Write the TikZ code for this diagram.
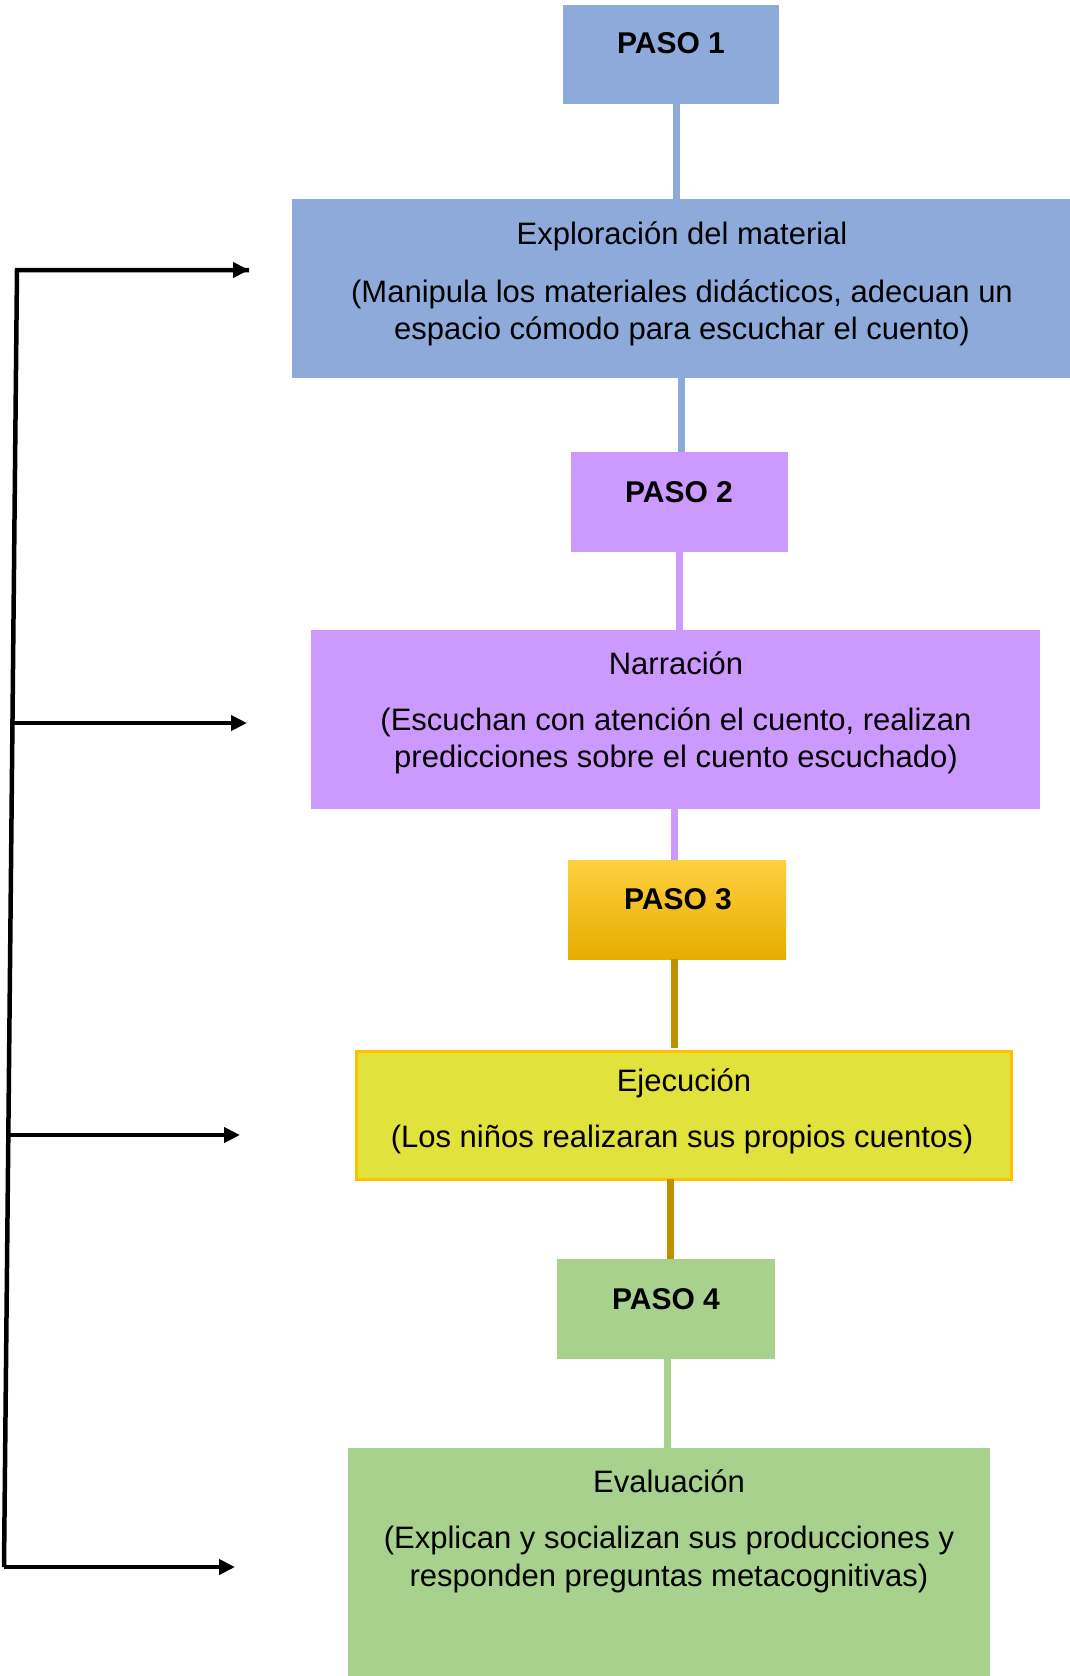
\documentclass[tikz,border=0pt]{standalone}
\usepackage{fontspec}
\setmainfont{Liberation Sans}
\usetikzlibrary{arrows.meta}
\definecolor{cblue}{HTML}{8EAADB}
\definecolor{cpurple}{HTML}{CC99FF}
\definecolor{cgold}{HTML}{BF9000}
\definecolor{cgreen}{HTML}{A9D18E}
\definecolor{cyel}{HTML}{E2E23C}
\definecolor{corange}{HTML}{FFC000}
\tikzset{
  box/.style={draw=none, inner sep=0pt, anchor=north west},
  stxt/.style={font=\fontsize{31}{37.5}\selectfont, align=center, inner sep=0pt, text=black},
  ptxt/.style={font=\fontsize{30}{37}\selectfont\bfseries, inner sep=0pt, text=black},
  conn/.style={line width=7pt},
  fb/.style={line width=4.5pt, -{Triangle[length=16pt,width=15pt]}},
}
\begin{document}
\begin{tikzpicture}[x=1pt,y=-1pt]
\useasboundingbox (0,0) rectangle (1070,1676);
% boxes
\node[box, fill=cblue, minimum width=216pt, minimum height=99pt] (p1) at (563,5) {};
\node[box, fill=cblue, minimum width=778pt, minimum height=179pt] (b1) at (292,199) {};
\node[box, fill=cpurple, minimum width=217pt, minimum height=100pt] (p2) at (571,452) {};
\node[box, fill=cpurple, minimum width=729pt, minimum height=179pt] (b2) at (311,630) {};
\node[box, top color=corange!75!white, middle color=corange, bottom color=corange!90!black, minimum width=218pt, minimum height=99pt] (p3) at (568,860) {};
\node[box, fill=cyel, draw=corange, line width=3pt, minimum width=655pt, minimum height=128pt] (b3) at (355,1049.5) {};
\node[box, fill=cgreen, minimum width=218pt, minimum height=100pt] (p4) at (557,1259) {};
\node[box, fill=cgreen, minimum width=642pt, minimum height=240pt] (b4) at (348,1448) {};
% connectors
\draw[conn, cblue] (676,104) -- (676,199);
\draw[conn, cblue] (681,378) -- (681,452);
\draw[conn, cpurple] (679,552) -- (679,630);
\draw[conn, cpurple] (674,809) -- (674,860);
\draw[conn, cgold] (674,959) -- (674,1048);
\draw[conn, cgold] (670,1179) -- (670,1259);
\draw[conn, cgreen] (667,1359) -- (667,1448);
% texts
\node[ptxt] (t1) at (671,43) {PASO 1};
\node[ptxt] (t2) at (679,492) {PASO 2};
\node[ptxt] (t3) at (678,899) {PASO 3};
\node[ptxt] (t4) at (666,1299) {PASO 4};
\node[stxt] (e1) at (682,236) {Exploración del material};
\node[stxt, anchor=north] (e2) at (682,279) {(Manipula los materiales didácticos, adecuan un\\espacio cómodo para escuchar el cuento)};
\node[stxt] (n1) at (676,663) {Narración};
\node[stxt, anchor=north] (n2) at (676,707) {(Escuchan con atención el cuento, realizan\\predicciones sobre el cuento escuchado)};
\node[stxt] (j1) at (684,1083) {Ejecución};
\node[stxt] (j2) at (682,1139) {(Los niños realizaran sus propios cuentos)};
\node[stxt] (v1) at (669,1481) {Evaluación};
\node[stxt, anchor=north] (v2) at (669,1526) {(Explican y socializan sus producciones y\\responden preguntas metacognitivas)};
% feedback bracket
\coordinate (s1) at (17,270);
\coordinate (s2) at (12.5,723);
\coordinate (s3) at (8.3,1135);
\coordinate (s4) at (4,1567);
\coordinate (a1) at (249,270);
\coordinate (a2) at (247,723);
\coordinate (a3) at (240,1135);
\coordinate (a4) at (235,1567);
\draw[line width=4.5pt, line join=miter] (a1) -- (s1) -- (s4);
\draw[fb] (s1) -- (a1);
\draw[fb] (s2) -- (a2);
\draw[fb] (s3) -- (a3);
\draw[fb] (s4) -- (a4);
\end{tikzpicture}
\end{document}
